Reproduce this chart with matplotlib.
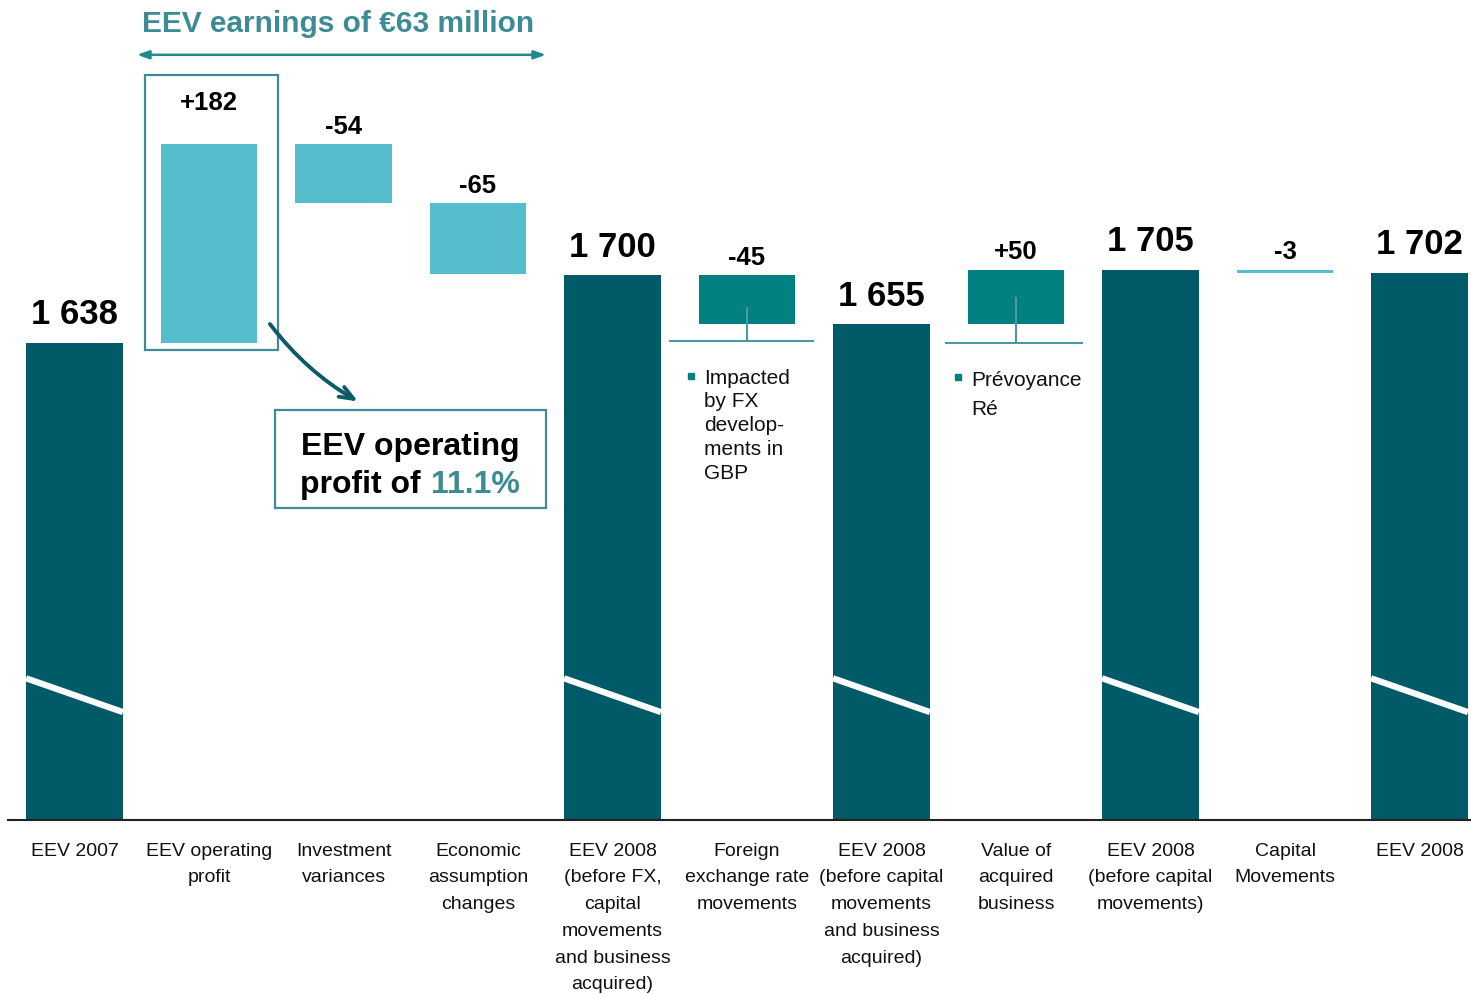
import numpy as np
import matplotlib.pyplot as plt
from matplotlib.patches import Rectangle

plt.rcParams['font.family'] = ['Liberation Sans', 'DejaVu Sans']

# ===== data =====
categories = [
    "EEV 2007",
    "EEV operating\nprofit",
    "Investment\nvariances",
    "Economic\nassumption\nchanges",
    "EEV 2008\n(before FX,\ncapital\nmovements\nand business\nacquired)",
    "Foreign\nexchange rate\nmovements",
    "EEV 2008\n(before capital\nmovements\nand business\nacquired)",
    "Value of\nacquired\nbusiness",
    "EEV 2008\n(before capital\nmovements)",
    "Capital\nMovements",
    "EEV 2008",
]
values = [1638, 182, -54, -65, 1700, -45, 1655, 50, 1705, -3, 1702]
is_total = [True, False, False, False, True, False, True, False, True, False, True]
value_labels = ["1 638", "+182", "-54", "-65", "1 700", "-45", "1 655", "+50", "1 705", "-3", "1 702"]
axis_start = 1200

DARK = "#005A68"
LIGHT = "#55BDCB"
MID = "#008080"
ACCENT = "#3D8C95"
bar_colors = [DARK, LIGHT, LIGHT, LIGHT, DARK, MID, DARK, MID, DARK, LIGHT, DARK]

fig = plt.figure(figsize=(14.71, 9.95), dpi=100)
ax = fig.add_axes([0, 174 / 995, 1, 821 / 995])

x = np.arange(len(values))
width = 0.72

# waterfall bottoms / heights
bottoms = []
heights = []
running = 0
for v, tot in zip(values, is_total):
    if tot:
        bottoms.append(axis_start)
        heights.append(v - axis_start)
        running = v
    else:
        bottoms.append(min(running, running + v))
        heights.append(abs(v))
        running = running + v

ax.bar(x, heights, bottom=bottoms, width=width, color=bar_colors, zorder=2)

# value labels
for i in range(len(values)):
    top = bottoms[i] + heights[i]
    if is_total[i]:
        ax.annotate(value_labels[i], (x[i], top), xytext=(0, 14), textcoords="offset points",
                    ha="center", va="baseline", fontsize=25, fontweight="bold")
    else:
        off = 25 if i == 1 else 8
        ax.annotate(value_labels[i], (x[i], top), xytext=(0, off), textcoords="offset points",
                    ha="center", va="baseline", fontsize=18.5, fontweight="bold")

# axis break marks on total bars
for i in range(len(values)):
    if is_total[i]:
        ax.plot([x[i] - width / 2, x[i] + width / 2], [1330, 1299], color="white",
                lw=4.5, solid_capstyle="butt", zorder=3)

ax.set_xlim(-74.5 / 134.5, (1471 - 74.5) / 134.5)
ax.set_ylim(axis_start, axis_start + 821 / 1.09)

# only the bottom line
for s in ["left", "right", "top"]:
    ax.spines[s].set_visible(False)
ax.spines["bottom"].set_linewidth(1.5)
ax.spines["bottom"].set_color("#222222")
ax.spines["bottom"].set_bounds(-0.494, 11)
ax.set_yticks([])
ax.set_xticks(x)
ax.set_xticklabels(categories, fontsize=14, linespacing=1.75, color="#111111")
ax.tick_params(axis="x", length=0, pad=15.5)

# EEV earnings header + double arrow
ax.text(1.96, 1924, "EEV earnings of \u20ac63 million", ha="center", va="baseline",
        fontsize=21.5, fontweight="bold", color=ACCENT)
ax.annotate("", xy=(0.465, 1902), xytext=(3.505, 1902),
            arrowprops=dict(arrowstyle="<|-|>,head_length=0.7,head_width=0.25",
                            color="#1F8A8A", lw=1.8, shrinkA=0, shrinkB=0))

# box round operating profit bar
ax.add_patch(Rectangle((0.524, 1631), 1.513 - 0.524, 1883.5 - 1631, fill=False,
                       edgecolor=ACCENT, lw=1.6, zorder=3))

# curved arrow to the callout
ax.annotate("", xy=(2.108, 1584), xytext=(1.453, 1655),
            arrowprops=dict(arrowstyle="->,head_length=1.0,head_width=0.4",
                            connectionstyle="arc3,rad=0.1", color="#0A5A68", lw=2.8,
                            shrinkA=0, shrinkB=0))

# callout box
ax.add_patch(Rectangle((1.49, 1486), 3.505 - 1.49, 1576 - 1486, fill=False,
                       edgecolor=ACCENT, lw=1.6, zorder=3))
ax.text(2.494, 1536, "EEV operating", ha="center", va="baseline",
        fontsize=23, fontweight="bold")
ax.text(2.575, 1501, "profit of", ha="right", va="baseline",
        fontsize=23, fontweight="bold")
ax.text(2.651, 1501, "11.1%", ha="left", va="baseline",
        fontsize=23, fontweight="bold", color=ACCENT)

# brackets under FX and acquired business
BRK = "#4A9AA0"
ax.plot([4.43, 5.49], [1639, 1639], color=BRK, lw=1.5, zorder=3)
ax.plot([5, 5], [1670, 1639], color=BRK, lw=1.5, zorder=3)
ax.plot([6.48, 7.49], [1637.5, 1637.5], color=BRK, lw=1.5, zorder=3)
ax.plot([7, 7], [1679, 1637.5], color=BRK, lw=1.5, zorder=3)

# bullet notes
ax.plot([4.58], [1607], marker="s", markersize=4.5, color=MID)
ax.text(4.68, 1615, "Impacted\nby FX\ndevelop-\nments in\nGBP", ha="left", va="top",
        fontsize=15, linespacing=1.32, color="#111111")
ax.plot([6.57], [1606], marker="s", markersize=4.5, color=MID)
ax.text(6.67, 1613, "Pr\u00e9voyance\nR\u00e9", ha="left", va="top",
        fontsize=15, linespacing=1.69, color="#111111")

fig.savefig("out.png", dpi=100)
